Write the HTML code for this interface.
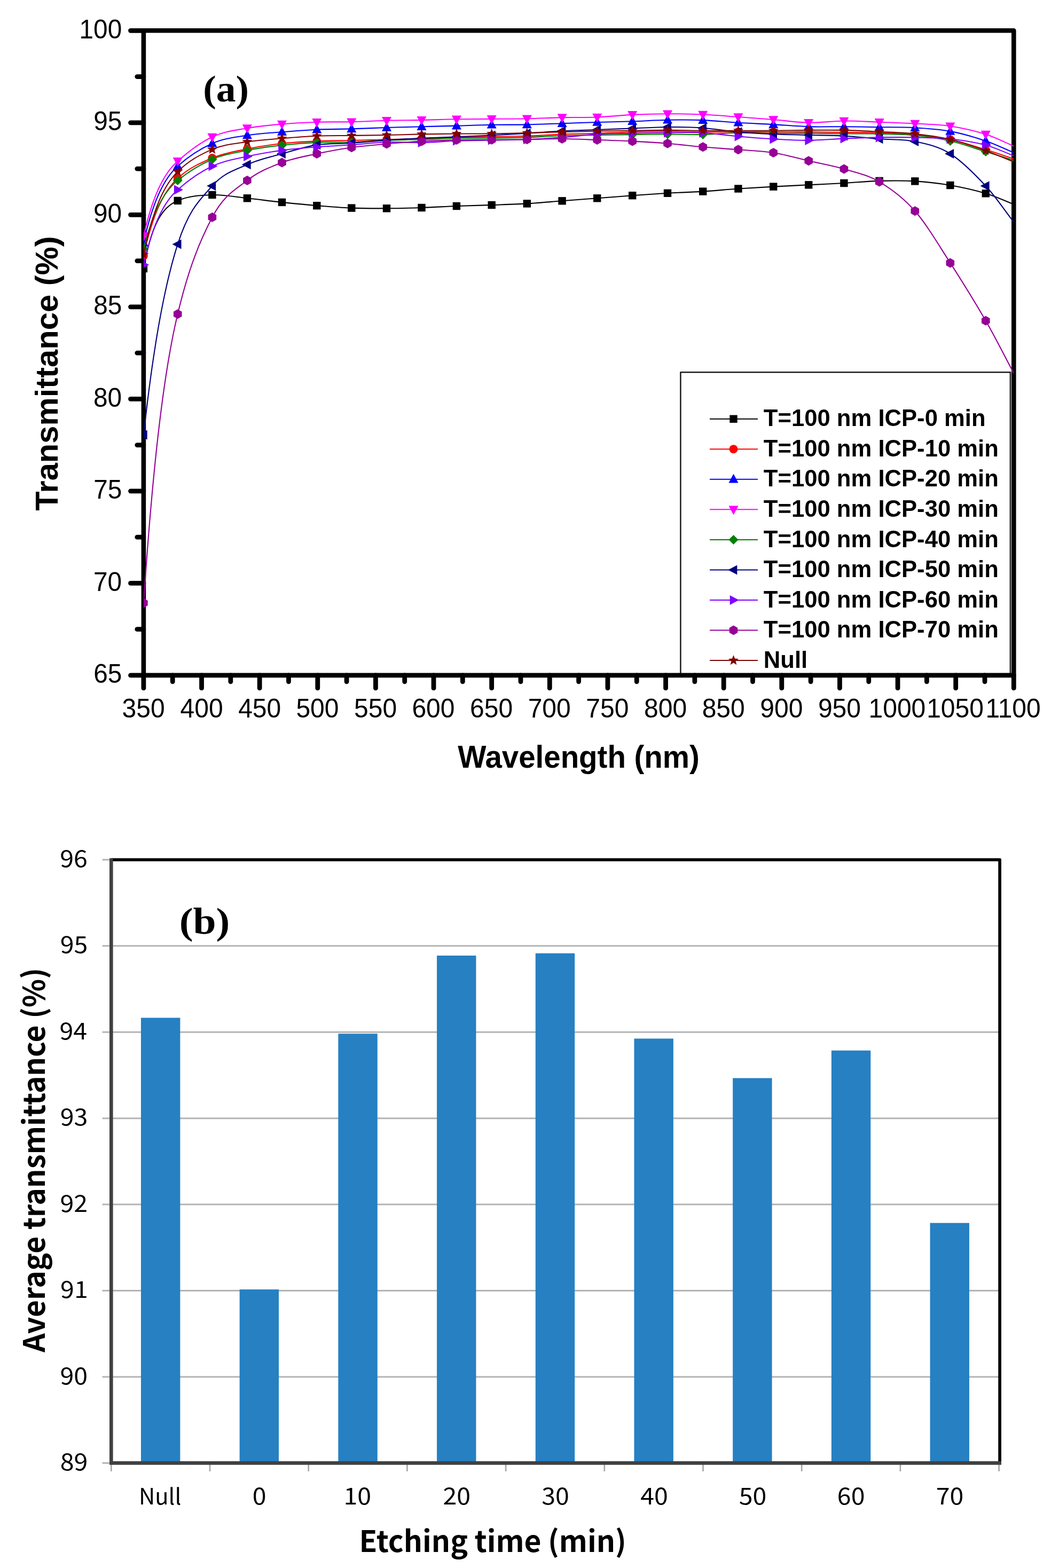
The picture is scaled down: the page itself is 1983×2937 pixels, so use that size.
<!DOCTYPE html>
<html><head><meta charset="utf-8"><title>Transmittance spectra and average transmittance</title><style>html,body{margin:0;padding:0;background:#fff;width:1983px;height:2937px;overflow:hidden}</style></head><body>
<svg width="1983" height="2937" viewBox="0 0 1983 2937" style="display:block">
<rect width="1983" height="2937" fill="#fff"/>
<path d="M1274.4,1264.9 L1274.4,697.3 L1891.9,697.3 L1891.9,1264.9" fill="#fff" stroke="#1a1a1a" stroke-width="2.5" stroke-linejoin="round"/>
<g stroke="#000" fill="none" stroke-linecap="round">
<rect x="268.9" y="57.3" width="1629.4" height="1207.6" stroke-width="8.6" stroke-linejoin="round"/>
<line x1="244.5" y1="57.3" x2="268.9" y2="57.3" stroke-width="8.8"/>
<line x1="256.8" y1="143.56" x2="268.9" y2="143.56" stroke-width="8.8"/>
<line x1="244.5" y1="229.81" x2="268.9" y2="229.81" stroke-width="8.8"/>
<line x1="256.8" y1="316.07" x2="268.9" y2="316.07" stroke-width="8.8"/>
<line x1="244.5" y1="402.33" x2="268.9" y2="402.33" stroke-width="8.8"/>
<line x1="256.8" y1="488.59" x2="268.9" y2="488.59" stroke-width="8.8"/>
<line x1="244.5" y1="574.84" x2="268.9" y2="574.84" stroke-width="8.8"/>
<line x1="256.8" y1="661.1" x2="268.9" y2="661.1" stroke-width="8.8"/>
<line x1="244.5" y1="747.36" x2="268.9" y2="747.36" stroke-width="8.8"/>
<line x1="256.8" y1="833.61" x2="268.9" y2="833.61" stroke-width="8.8"/>
<line x1="244.5" y1="919.87" x2="268.9" y2="919.87" stroke-width="8.8"/>
<line x1="256.8" y1="1006.13" x2="268.9" y2="1006.13" stroke-width="8.8"/>
<line x1="244.5" y1="1092.39" x2="268.9" y2="1092.39" stroke-width="8.8"/>
<line x1="256.8" y1="1178.64" x2="268.9" y2="1178.64" stroke-width="8.8"/>
<line x1="244.5" y1="1264.9" x2="268.9" y2="1264.9" stroke-width="8.8"/>
<line x1="268.9" y1="1264.9" x2="268.9" y2="1288.9" stroke-width="8.8"/>
<line x1="323.21" y1="1264.9" x2="323.21" y2="1276.8" stroke-width="8.8"/>
<line x1="377.53" y1="1264.9" x2="377.53" y2="1288.9" stroke-width="8.8"/>
<line x1="431.84" y1="1264.9" x2="431.84" y2="1276.8" stroke-width="8.8"/>
<line x1="486.15" y1="1264.9" x2="486.15" y2="1288.9" stroke-width="8.8"/>
<line x1="540.47" y1="1264.9" x2="540.47" y2="1276.8" stroke-width="8.8"/>
<line x1="594.78" y1="1264.9" x2="594.78" y2="1288.9" stroke-width="8.8"/>
<line x1="649.09" y1="1264.9" x2="649.09" y2="1276.8" stroke-width="8.8"/>
<line x1="703.41" y1="1264.9" x2="703.41" y2="1288.9" stroke-width="8.8"/>
<line x1="757.72" y1="1264.9" x2="757.72" y2="1276.8" stroke-width="8.8"/>
<line x1="812.03" y1="1264.9" x2="812.03" y2="1288.9" stroke-width="8.8"/>
<line x1="866.35" y1="1264.9" x2="866.35" y2="1276.8" stroke-width="8.8"/>
<line x1="920.66" y1="1264.9" x2="920.66" y2="1288.9" stroke-width="8.8"/>
<line x1="974.97" y1="1264.9" x2="974.97" y2="1276.8" stroke-width="8.8"/>
<line x1="1029.29" y1="1264.9" x2="1029.29" y2="1288.9" stroke-width="8.8"/>
<line x1="1083.6" y1="1264.9" x2="1083.6" y2="1276.8" stroke-width="8.8"/>
<line x1="1137.91" y1="1264.9" x2="1137.91" y2="1288.9" stroke-width="8.8"/>
<line x1="1192.23" y1="1264.9" x2="1192.23" y2="1276.8" stroke-width="8.8"/>
<line x1="1246.54" y1="1264.9" x2="1246.54" y2="1288.9" stroke-width="8.8"/>
<line x1="1300.85" y1="1264.9" x2="1300.85" y2="1276.8" stroke-width="8.8"/>
<line x1="1355.17" y1="1264.9" x2="1355.17" y2="1288.9" stroke-width="8.8"/>
<line x1="1409.48" y1="1264.9" x2="1409.48" y2="1276.8" stroke-width="8.8"/>
<line x1="1463.79" y1="1264.9" x2="1463.79" y2="1288.9" stroke-width="8.8"/>
<line x1="1518.11" y1="1264.9" x2="1518.11" y2="1276.8" stroke-width="8.8"/>
<line x1="1572.42" y1="1264.9" x2="1572.42" y2="1288.9" stroke-width="8.8"/>
<line x1="1626.73" y1="1264.9" x2="1626.73" y2="1276.8" stroke-width="8.8"/>
<line x1="1681.05" y1="1264.9" x2="1681.05" y2="1288.9" stroke-width="8.8"/>
<line x1="1735.36" y1="1264.9" x2="1735.36" y2="1276.8" stroke-width="8.8"/>
<line x1="1789.67" y1="1264.9" x2="1789.67" y2="1288.9" stroke-width="8.8"/>
<line x1="1843.99" y1="1264.9" x2="1843.99" y2="1276.8" stroke-width="8.8"/>
<line x1="1898.3" y1="1264.9" x2="1898.3" y2="1288.9" stroke-width="8.8"/>
</g>
<defs><clipPath id="ca"><rect x="268.9" y="57.3" width="1629.4" height="1207.6"/></clipPath></defs>
<g clip-path="url(#ca)">
<path d="M268.9,503 L271.18,490.99 L273.46,480.03 L275.74,470.02 L278.01,460.89 L280.29,452.55 L282.57,444.94 L284.85,437.99 L287.13,431.64 L289.41,425.85 L291.69,420.56 L293.96,415.74 L296.24,411.33 L298.52,407.31 L300.8,403.64 L303.08,400.29 L305.36,397.23 L307.64,394.43 L309.91,391.88 L312.19,389.55 L314.47,387.43 L316.75,385.49 L319.03,383.72 L321.31,382.1 L323.59,380.63 L325.86,379.28 L328.14,378.05 L330.42,376.93 L332.7,375.9 C354.27,366.63 375.83,365.76 397.4,365 C419.23,364.23 441.07,368.98 462.9,371.3 C484.6,373.61 506.3,376.59 528,378.9 C549.77,381.22 571.53,383.41 593.3,385.2 C614.97,386.98 636.63,388.75 658.3,389.6 C680.2,390.45 702.1,390.4 724,390.3 C745.83,390.2 767.67,389.72 789.5,389 C811.3,388.28 833.1,386.83 854.9,386 C876.83,385.16 898.77,384.76 920.7,384 C942.73,383.23 964.77,382.69 986.8,381.4 C1008.73,380.12 1030.67,377.99 1052.6,376.3 C1074.47,374.62 1096.33,372.98 1118.2,371.3 C1140.2,369.61 1162.2,367.79 1184.2,366.2 C1206.13,364.62 1228.07,363.06 1250,361.8 C1272.07,360.53 1294.13,359.98 1316.2,358.6 C1338.27,357.22 1360.33,355 1382.4,353.5 C1404.33,352 1426.27,350.8 1448.2,349.6 C1470.2,348.4 1492.2,347.4 1514.2,346.3 C1536.27,345.2 1558.33,344.23 1580.4,343 C1602.47,341.77 1624.53,339.5 1646.6,338.9 C1668.83,338.3 1691.07,338.04 1713.3,339.4 C1735.3,340.74 1757.3,343.2 1779.3,347 C1801.47,350.83 1823.63,355.65 1845.8,362.3 C1863.3,367.55 1880.8,375.9 1898.3,382.7" fill="none" stroke="#000000" stroke-width="2.1" stroke-linejoin="round"/>
<rect x="261.7" y="495.8" width="14.4" height="14.4" fill="#000000"/>
<rect x="325.5" y="368.7" width="14.4" height="14.4" fill="#000000"/>
<rect x="390.2" y="357.8" width="14.4" height="14.4" fill="#000000"/>
<rect x="455.7" y="364.1" width="14.4" height="14.4" fill="#000000"/>
<rect x="520.8" y="371.7" width="14.4" height="14.4" fill="#000000"/>
<rect x="586.1" y="378" width="14.4" height="14.4" fill="#000000"/>
<rect x="651.1" y="382.4" width="14.4" height="14.4" fill="#000000"/>
<rect x="716.8" y="383.1" width="14.4" height="14.4" fill="#000000"/>
<rect x="782.3" y="381.8" width="14.4" height="14.4" fill="#000000"/>
<rect x="847.7" y="378.8" width="14.4" height="14.4" fill="#000000"/>
<rect x="913.5" y="376.8" width="14.4" height="14.4" fill="#000000"/>
<rect x="979.6" y="374.2" width="14.4" height="14.4" fill="#000000"/>
<rect x="1045.4" y="369.1" width="14.4" height="14.4" fill="#000000"/>
<rect x="1111" y="364.1" width="14.4" height="14.4" fill="#000000"/>
<rect x="1177" y="359" width="14.4" height="14.4" fill="#000000"/>
<rect x="1242.8" y="354.6" width="14.4" height="14.4" fill="#000000"/>
<rect x="1309" y="351.4" width="14.4" height="14.4" fill="#000000"/>
<rect x="1375.2" y="346.3" width="14.4" height="14.4" fill="#000000"/>
<rect x="1441" y="342.4" width="14.4" height="14.4" fill="#000000"/>
<rect x="1507" y="339.1" width="14.4" height="14.4" fill="#000000"/>
<rect x="1573.2" y="335.8" width="14.4" height="14.4" fill="#000000"/>
<rect x="1639.4" y="331.7" width="14.4" height="14.4" fill="#000000"/>
<rect x="1706.1" y="332.2" width="14.4" height="14.4" fill="#000000"/>
<rect x="1772.1" y="339.8" width="14.4" height="14.4" fill="#000000"/>
<rect x="1838.6" y="355.1" width="14.4" height="14.4" fill="#000000"/>
<path d="M268.9,479 L271.18,468.93 L273.46,459.41 L275.74,450.42 L278.01,441.93 L280.29,433.91 L282.57,426.34 L284.85,419.18 L287.13,412.42 L289.41,406.03 L291.69,400 L293.96,394.3 L296.24,388.92 L298.52,383.83 L300.8,379.03 L303.08,374.49 L305.36,370.21 L307.64,366.16 L309.91,362.33 L312.19,358.72 L314.47,355.31 L316.75,352.09 L319.03,349.04 L321.31,346.16 L323.59,343.45 L325.86,340.88 L328.14,338.45 L330.42,336.16 L332.7,334 C354.27,314.1 375.83,305.11 397.4,296 C419.23,286.78 441.07,283.55 462.9,279 C484.6,274.48 506.3,271.23 528,268.8 C549.77,266.36 571.53,265.37 593.3,264.4 C614.97,263.44 636.63,263.51 658.3,263 C680.2,262.48 702.1,261.85 724,261.3 C745.83,260.75 767.67,260.38 789.5,259.7 C811.3,259.02 833.1,257.81 854.9,257.2 C876.83,256.58 898.77,256.4 920.7,256 C942.73,255.6 964.77,255.54 986.8,254.8 C1008.73,254.07 1030.67,252.45 1052.6,251.6 C1074.47,250.75 1096.33,250.43 1118.2,249.7 C1140.2,248.96 1162.2,247.77 1184.2,247.2 C1206.13,246.63 1228.07,246.3 1250,246.3 C1272.07,246.3 1294.13,247.08 1316.2,247.2 C1338.27,247.32 1360.33,247 1382.4,247 C1404.33,247 1426.27,247.17 1448.2,247.2 C1470.2,247.23 1492.2,247.07 1514.2,247.2 C1536.27,247.33 1558.33,247.73 1580.4,248 C1602.47,248.27 1624.53,248.04 1646.6,248.8 C1668.83,249.57 1691.07,250.52 1713.3,252.6 C1735.3,254.66 1757.3,256.6 1779.3,261.2 C1801.47,265.83 1823.63,273.54 1845.8,280.3 C1863.3,285.64 1880.8,291.77 1898.3,297.5" fill="none" stroke="#FF0000" stroke-width="2.1" stroke-linejoin="round"/>
<circle cx="268.9" cy="479" r="8" fill="#FF0000"/>
<circle cx="332.7" cy="334" r="8" fill="#FF0000"/>
<circle cx="397.4" cy="296" r="8" fill="#FF0000"/>
<circle cx="462.9" cy="279" r="8" fill="#FF0000"/>
<circle cx="528" cy="268.8" r="8" fill="#FF0000"/>
<circle cx="593.3" cy="264.4" r="8" fill="#FF0000"/>
<circle cx="658.3" cy="263" r="8" fill="#FF0000"/>
<circle cx="724" cy="261.3" r="8" fill="#FF0000"/>
<circle cx="789.5" cy="259.7" r="8" fill="#FF0000"/>
<circle cx="854.9" cy="257.2" r="8" fill="#FF0000"/>
<circle cx="920.7" cy="256" r="8" fill="#FF0000"/>
<circle cx="986.8" cy="254.8" r="8" fill="#FF0000"/>
<circle cx="1052.6" cy="251.6" r="8" fill="#FF0000"/>
<circle cx="1118.2" cy="249.7" r="8" fill="#FF0000"/>
<circle cx="1184.2" cy="247.2" r="8" fill="#FF0000"/>
<circle cx="1250" cy="246.3" r="8" fill="#FF0000"/>
<circle cx="1316.2" cy="247.2" r="8" fill="#FF0000"/>
<circle cx="1382.4" cy="247" r="8" fill="#FF0000"/>
<circle cx="1448.2" cy="247.2" r="8" fill="#FF0000"/>
<circle cx="1514.2" cy="247.2" r="8" fill="#FF0000"/>
<circle cx="1580.4" cy="248" r="8" fill="#FF0000"/>
<circle cx="1646.6" cy="248.8" r="8" fill="#FF0000"/>
<circle cx="1713.3" cy="252.6" r="8" fill="#FF0000"/>
<circle cx="1779.3" cy="261.2" r="8" fill="#FF0000"/>
<circle cx="1845.8" cy="280.3" r="8" fill="#FF0000"/>
<path d="M268.9,455 L271.18,445.02 L273.46,435.59 L275.74,426.68 L278.01,418.27 L280.29,410.32 L282.57,402.81 L284.85,395.72 L287.13,389.02 L289.41,382.69 L291.69,376.71 L293.96,371.06 L296.24,365.73 L298.52,360.69 L300.8,355.93 L303.08,351.43 L305.36,347.18 L307.64,343.17 L309.91,339.38 L312.19,335.8 L314.47,332.42 L316.75,329.22 L319.03,326.21 L321.31,323.35 L323.59,320.66 L325.86,318.12 L328.14,315.71 L330.42,313.44 L332.7,311.3 C354.27,291.58 375.83,278.27 397.4,268.7 C419.23,259.01 441.07,257.09 462.9,253.5 C484.6,249.93 506.3,249 528,247.2 C549.77,245.4 571.53,243.67 593.3,242.7 C614.97,241.74 636.63,242.01 658.3,241.4 C680.2,240.78 702.1,239.68 724,239 C745.83,238.32 767.67,237.87 789.5,237.3 C811.3,236.73 833.1,236.18 854.9,235.6 C876.83,235.01 898.77,234.17 920.7,233.8 C942.73,233.43 964.77,233.83 986.8,233.4 C1008.73,232.97 1030.67,231.93 1052.6,231.2 C1074.47,230.47 1096.33,229.65 1118.2,229 C1140.2,228.35 1162.2,228 1184.2,227.3 C1206.13,226.6 1228.07,225.17 1250,224.8 C1272.07,224.43 1294.13,224.27 1316.2,225.1 C1338.27,225.93 1360.33,228.46 1382.4,229.8 C1404.33,231.13 1426.27,231.87 1448.2,233.1 C1470.2,234.34 1492.2,236.52 1514.2,237.2 C1536.27,237.88 1558.33,237.03 1580.4,237.2 C1602.47,237.37 1624.53,237.87 1646.6,238.2 C1668.83,238.53 1691.07,237.91 1713.3,239.2 C1735.3,240.48 1757.3,241.78 1779.3,245.9 C1801.47,250.05 1823.63,256.53 1845.8,264 C1863.3,269.9 1880.8,278.67 1898.3,286" fill="none" stroke="#0000FF" stroke-width="2.1" stroke-linejoin="round"/>
<polygon points="268.9,444.8 277.9,461.8 259.9,461.8" fill="#0000FF"/>
<polygon points="332.7,301.1 341.7,318.1 323.7,318.1" fill="#0000FF"/>
<polygon points="397.4,258.5 406.4,275.5 388.4,275.5" fill="#0000FF"/>
<polygon points="462.9,243.3 471.9,260.3 453.9,260.3" fill="#0000FF"/>
<polygon points="528,237 537,254 519,254" fill="#0000FF"/>
<polygon points="593.3,232.5 602.3,249.5 584.3,249.5" fill="#0000FF"/>
<polygon points="658.3,231.2 667.3,248.2 649.3,248.2" fill="#0000FF"/>
<polygon points="724,228.8 733,245.8 715,245.8" fill="#0000FF"/>
<polygon points="789.5,227.1 798.5,244.1 780.5,244.1" fill="#0000FF"/>
<polygon points="854.9,225.4 863.9,242.4 845.9,242.4" fill="#0000FF"/>
<polygon points="920.7,223.6 929.7,240.6 911.7,240.6" fill="#0000FF"/>
<polygon points="986.8,223.2 995.8,240.2 977.8,240.2" fill="#0000FF"/>
<polygon points="1052.6,221 1061.6,238 1043.6,238" fill="#0000FF"/>
<polygon points="1118.2,218.8 1127.2,235.8 1109.2,235.8" fill="#0000FF"/>
<polygon points="1184.2,217.1 1193.2,234.1 1175.2,234.1" fill="#0000FF"/>
<polygon points="1250,214.6 1259,231.6 1241,231.6" fill="#0000FF"/>
<polygon points="1316.2,214.9 1325.2,231.9 1307.2,231.9" fill="#0000FF"/>
<polygon points="1382.4,219.6 1391.4,236.6 1373.4,236.6" fill="#0000FF"/>
<polygon points="1448.2,222.9 1457.2,239.9 1439.2,239.9" fill="#0000FF"/>
<polygon points="1514.2,227 1523.2,244 1505.2,244" fill="#0000FF"/>
<polygon points="1580.4,227 1589.4,244 1571.4,244" fill="#0000FF"/>
<polygon points="1646.6,228 1655.6,245 1637.6,245" fill="#0000FF"/>
<polygon points="1713.3,229 1722.3,246 1704.3,246" fill="#0000FF"/>
<polygon points="1779.3,235.7 1788.3,252.7 1770.3,252.7" fill="#0000FF"/>
<polygon points="1845.8,253.8 1854.8,270.8 1836.8,270.8" fill="#0000FF"/>
<path d="M268.9,442 L271.18,432.27 L273.46,423.07 L275.74,414.39 L278.01,406.19 L280.29,398.44 L282.57,391.12 L284.85,384.2 L287.13,377.67 L289.41,371.5 L291.69,365.67 L293.96,360.16 L296.24,354.96 L298.52,350.05 L300.8,345.41 L303.08,341.03 L305.36,336.88 L307.64,332.97 L309.91,329.28 L312.19,325.79 L314.47,322.49 L316.75,319.37 L319.03,316.43 L321.31,313.65 L323.59,311.03 L325.86,308.55 L328.14,306.2 L330.42,303.99 L332.7,301.9 C354.27,282.67 375.83,266.75 397.4,256.5 C419.23,246.12 441.07,244.01 462.9,240 C484.6,236.01 506.3,234.38 528,232.5 C549.77,230.61 571.53,229.42 593.3,228.7 C614.97,227.98 636.63,228.7 658.3,228.2 C680.2,227.7 702.1,226.25 724,225.7 C745.83,225.15 767.67,225.32 789.5,224.9 C811.3,224.48 833.1,223.53 854.9,223.2 C876.83,222.87 898.77,223.05 920.7,222.9 C942.73,222.75 964.77,222.77 986.8,222.3 C1008.73,221.83 1030.67,220.57 1052.6,220.1 C1074.47,219.63 1096.33,220.36 1118.2,219.5 C1140.2,218.63 1162.2,215.95 1184.2,214.9 C1206.13,213.85 1228.07,213.27 1250,213.2 C1272.07,213.13 1294.13,213.53 1316.2,214.5 C1338.27,215.47 1360.33,217.41 1382.4,219 C1404.33,220.58 1426.27,222.2 1448.2,224 C1470.2,225.8 1492.2,229.38 1514.2,229.8 C1536.27,230.22 1558.33,226.68 1580.4,226.5 C1602.47,226.32 1624.53,227.87 1646.6,228.7 C1668.83,229.54 1691.07,230.23 1713.3,231.5 C1735.3,232.76 1757.3,232.96 1779.3,236.3 C1801.47,239.66 1823.63,244.65 1845.8,251.6 C1863.3,257.09 1880.8,266.27 1898.3,273.6" fill="none" stroke="#FF00FF" stroke-width="2.1" stroke-linejoin="round"/>
<polygon points="268.9,452.2 277.9,435.2 259.9,435.2" fill="#FF00FF"/>
<polygon points="332.7,312.1 341.7,295.1 323.7,295.1" fill="#FF00FF"/>
<polygon points="397.4,266.7 406.4,249.7 388.4,249.7" fill="#FF00FF"/>
<polygon points="462.9,250.2 471.9,233.2 453.9,233.2" fill="#FF00FF"/>
<polygon points="528,242.7 537,225.7 519,225.7" fill="#FF00FF"/>
<polygon points="593.3,238.9 602.3,221.9 584.3,221.9" fill="#FF00FF"/>
<polygon points="658.3,238.4 667.3,221.4 649.3,221.4" fill="#FF00FF"/>
<polygon points="724,235.9 733,218.9 715,218.9" fill="#FF00FF"/>
<polygon points="789.5,235.1 798.5,218.1 780.5,218.1" fill="#FF00FF"/>
<polygon points="854.9,233.4 863.9,216.4 845.9,216.4" fill="#FF00FF"/>
<polygon points="920.7,233.1 929.7,216.1 911.7,216.1" fill="#FF00FF"/>
<polygon points="986.8,232.5 995.8,215.5 977.8,215.5" fill="#FF00FF"/>
<polygon points="1052.6,230.3 1061.6,213.3 1043.6,213.3" fill="#FF00FF"/>
<polygon points="1118.2,229.7 1127.2,212.7 1109.2,212.7" fill="#FF00FF"/>
<polygon points="1184.2,225.1 1193.2,208.1 1175.2,208.1" fill="#FF00FF"/>
<polygon points="1250,223.4 1259,206.4 1241,206.4" fill="#FF00FF"/>
<polygon points="1316.2,224.7 1325.2,207.7 1307.2,207.7" fill="#FF00FF"/>
<polygon points="1382.4,229.2 1391.4,212.2 1373.4,212.2" fill="#FF00FF"/>
<polygon points="1448.2,234.2 1457.2,217.2 1439.2,217.2" fill="#FF00FF"/>
<polygon points="1514.2,240 1523.2,223 1505.2,223" fill="#FF00FF"/>
<polygon points="1580.4,236.7 1589.4,219.7 1571.4,219.7" fill="#FF00FF"/>
<polygon points="1646.6,238.9 1655.6,221.9 1637.6,221.9" fill="#FF00FF"/>
<polygon points="1713.3,241.7 1722.3,224.7 1704.3,224.7" fill="#FF00FF"/>
<polygon points="1779.3,246.5 1788.3,229.5 1770.3,229.5" fill="#FF00FF"/>
<polygon points="1845.8,261.8 1854.8,244.8 1836.8,244.8" fill="#FF00FF"/>
<path d="M268.9,466 L271.18,457.11 L273.46,448.71 L275.74,440.77 L278.01,433.28 L280.29,426.2 L282.57,419.51 L284.85,413.19 L287.13,407.23 L289.41,401.59 L291.69,396.26 L293.96,391.23 L296.24,386.48 L298.52,381.99 L300.8,377.75 L303.08,373.75 L305.36,369.96 L307.64,366.39 L309.91,363.01 L312.19,359.82 L314.47,356.81 L316.75,353.96 L319.03,351.28 L321.31,348.74 L323.59,346.34 L325.86,344.07 L328.14,341.93 L330.42,339.91 L332.7,338 C354.27,320.43 375.83,307.84 397.4,298.5 C419.23,289.04 441.07,286.03 462.9,281.6 C484.6,277.2 506.3,274.45 528,272 C549.77,269.55 571.53,267.85 593.3,266.9 C614.97,265.95 636.63,267.01 658.3,266.3 C680.2,265.58 702.1,263.43 724,262.6 C745.83,261.77 767.67,261.93 789.5,261.3 C811.3,260.67 833.1,259.25 854.9,258.8 C876.83,258.35 898.77,258.83 920.7,258.6 C942.73,258.37 964.77,258.14 986.8,257.4 C1008.73,256.67 1030.67,254.93 1052.6,254.2 C1074.47,253.47 1096.33,253.35 1118.2,253 C1140.2,252.65 1162.2,252.35 1184.2,252.1 C1206.13,251.85 1228.07,251.52 1250,251.5 C1272.07,251.48 1294.13,252.45 1316.2,252 C1338.27,251.55 1360.33,249.18 1382.4,248.8 C1404.33,248.42 1426.27,249.55 1448.2,249.7 C1470.2,249.85 1492.2,249.57 1514.2,249.7 C1536.27,249.83 1558.33,250.33 1580.4,250.5 C1602.47,250.67 1624.53,250.2 1646.6,250.7 C1668.83,251.2 1691.07,251.27 1713.3,253.5 C1735.3,255.7 1757.3,258.92 1779.3,264 C1801.47,269.12 1823.63,277.32 1845.8,284.1 C1863.3,289.45 1880.8,294.97 1898.3,300.4" fill="none" stroke="#008000" stroke-width="2.1" stroke-linejoin="round"/>
<polygon points="268.9,457 277.9,466 268.9,475 259.9,466" fill="#008000"/>
<polygon points="332.7,329 341.7,338 332.7,347 323.7,338" fill="#008000"/>
<polygon points="397.4,289.5 406.4,298.5 397.4,307.5 388.4,298.5" fill="#008000"/>
<polygon points="462.9,272.6 471.9,281.6 462.9,290.6 453.9,281.6" fill="#008000"/>
<polygon points="528,263 537,272 528,281 519,272" fill="#008000"/>
<polygon points="593.3,257.9 602.3,266.9 593.3,275.9 584.3,266.9" fill="#008000"/>
<polygon points="658.3,257.3 667.3,266.3 658.3,275.3 649.3,266.3" fill="#008000"/>
<polygon points="724,253.6 733,262.6 724,271.6 715,262.6" fill="#008000"/>
<polygon points="789.5,252.3 798.5,261.3 789.5,270.3 780.5,261.3" fill="#008000"/>
<polygon points="854.9,249.8 863.9,258.8 854.9,267.8 845.9,258.8" fill="#008000"/>
<polygon points="920.7,249.6 929.7,258.6 920.7,267.6 911.7,258.6" fill="#008000"/>
<polygon points="986.8,248.4 995.8,257.4 986.8,266.4 977.8,257.4" fill="#008000"/>
<polygon points="1052.6,245.2 1061.6,254.2 1052.6,263.2 1043.6,254.2" fill="#008000"/>
<polygon points="1118.2,244 1127.2,253 1118.2,262 1109.2,253" fill="#008000"/>
<polygon points="1184.2,243.1 1193.2,252.1 1184.2,261.1 1175.2,252.1" fill="#008000"/>
<polygon points="1250,242.5 1259,251.5 1250,260.5 1241,251.5" fill="#008000"/>
<polygon points="1316.2,243 1325.2,252 1316.2,261 1307.2,252" fill="#008000"/>
<polygon points="1382.4,239.8 1391.4,248.8 1382.4,257.8 1373.4,248.8" fill="#008000"/>
<polygon points="1448.2,240.7 1457.2,249.7 1448.2,258.7 1439.2,249.7" fill="#008000"/>
<polygon points="1514.2,240.7 1523.2,249.7 1514.2,258.7 1505.2,249.7" fill="#008000"/>
<polygon points="1580.4,241.5 1589.4,250.5 1580.4,259.5 1571.4,250.5" fill="#008000"/>
<polygon points="1646.6,241.7 1655.6,250.7 1646.6,259.7 1637.6,250.7" fill="#008000"/>
<polygon points="1713.3,244.5 1722.3,253.5 1713.3,262.5 1704.3,253.5" fill="#008000"/>
<polygon points="1779.3,255 1788.3,264 1779.3,273 1770.3,264" fill="#008000"/>
<polygon points="1845.8,275.1 1854.8,284.1 1845.8,293.1 1836.8,284.1" fill="#008000"/>
<path d="M268.9,814.4 L271.18,794.09 L273.46,774.53 L275.74,755.7 L278.01,737.57 L280.29,720.12 L282.57,703.32 L284.85,687.15 L287.13,671.57 L289.41,656.58 L291.69,642.15 L293.96,628.25 L296.24,614.88 L298.52,602 L300.8,589.6 L303.08,577.66 L305.36,566.17 L307.64,555.11 L309.91,544.45 L312.19,534.2 L314.47,524.33 L316.75,514.82 L319.03,505.67 L321.31,496.86 L323.59,488.38 L325.86,480.22 L328.14,472.35 L330.42,464.79 L332.7,457.5 C354.27,389.84 375.83,373.01 397.4,348.3 C419.23,323.28 441.07,318.38 462.9,308.3 C484.6,298.28 506.3,294.14 528,288 C549.77,281.84 571.53,274.74 593.3,271.4 C614.97,268.07 636.63,269.46 658.3,268 C680.2,266.53 702.1,264.14 724,262.6 C745.83,261.07 767.67,259.85 789.5,258.8 C811.3,257.75 833.1,257.18 854.9,256.3 C876.83,255.41 898.77,254.6 920.7,253.5 C942.73,252.4 964.77,251.07 986.8,249.7 C1008.73,248.34 1030.67,246.42 1052.6,245.3 C1074.47,244.19 1096.33,243.8 1118.2,243 C1140.2,242.2 1162.2,241.33 1184.2,240.5 C1206.13,239.67 1228.07,238.13 1250,238 C1272.07,237.87 1294.13,238.17 1316.2,239.7 C1338.27,241.23 1360.33,245.26 1382.4,247.2 C1404.33,249.13 1426.27,250.33 1448.2,251.3 C1470.2,252.27 1492.2,252.45 1514.2,253 C1536.27,253.55 1558.33,253.4 1580.4,254.6 C1602.47,255.8 1624.53,258.47 1646.6,260.2 C1668.83,261.94 1691.07,260.34 1713.3,265 C1735.3,269.61 1757.3,274.17 1779.3,288 C1801.47,301.94 1823.63,324.46 1845.8,348.3 C1863.3,367.12 1880.8,393.43 1898.3,416" fill="none" stroke="#000080" stroke-width="2.1" stroke-linejoin="round"/>
<polygon points="258.7,814.4 275.7,805.4 275.7,823.4" fill="#000080"/>
<polygon points="322.5,457.5 339.5,448.5 339.5,466.5" fill="#000080"/>
<polygon points="387.2,348.3 404.2,339.3 404.2,357.3" fill="#000080"/>
<polygon points="452.7,308.3 469.7,299.3 469.7,317.3" fill="#000080"/>
<polygon points="517.8,288 534.8,279 534.8,297" fill="#000080"/>
<polygon points="583.1,271.4 600.1,262.4 600.1,280.4" fill="#000080"/>
<polygon points="648.1,268 665.1,259 665.1,277" fill="#000080"/>
<polygon points="713.8,262.6 730.8,253.6 730.8,271.6" fill="#000080"/>
<polygon points="779.3,258.8 796.3,249.8 796.3,267.8" fill="#000080"/>
<polygon points="844.7,256.3 861.7,247.3 861.7,265.3" fill="#000080"/>
<polygon points="910.5,253.5 927.5,244.5 927.5,262.5" fill="#000080"/>
<polygon points="976.6,249.7 993.6,240.7 993.6,258.7" fill="#000080"/>
<polygon points="1042.4,245.3 1059.4,236.3 1059.4,254.3" fill="#000080"/>
<polygon points="1108,243 1125,234 1125,252" fill="#000080"/>
<polygon points="1174,240.5 1191,231.5 1191,249.5" fill="#000080"/>
<polygon points="1239.8,238 1256.8,229 1256.8,247" fill="#000080"/>
<polygon points="1306,239.7 1323,230.7 1323,248.7" fill="#000080"/>
<polygon points="1372.2,247.2 1389.2,238.2 1389.2,256.2" fill="#000080"/>
<polygon points="1438,251.3 1455,242.3 1455,260.3" fill="#000080"/>
<polygon points="1504,253 1521,244 1521,262" fill="#000080"/>
<polygon points="1570.2,254.6 1587.2,245.6 1587.2,263.6" fill="#000080"/>
<polygon points="1636.4,260.2 1653.4,251.2 1653.4,269.2" fill="#000080"/>
<polygon points="1703.1,265 1720.1,256 1720.1,274" fill="#000080"/>
<polygon points="1769.1,288 1786.1,279 1786.1,297" fill="#000080"/>
<polygon points="1835.6,348.3 1852.6,339.3 1852.6,357.3" fill="#000080"/>
<path d="M268.9,496 L271.18,486.23 L273.46,477.01 L275.74,468.29 L278.01,460.06 L280.29,452.28 L282.57,444.93 L284.85,438 L287.13,431.44 L289.41,425.25 L291.69,419.4 L293.96,413.87 L296.24,408.65 L298.52,403.72 L300.8,399.06 L303.08,394.67 L305.36,390.51 L307.64,386.58 L309.91,382.87 L312.19,379.37 L314.47,376.06 L316.75,372.94 L319.03,369.98 L321.31,367.19 L323.59,364.56 L325.86,362.07 L328.14,359.72 L330.42,357.5 L332.7,355.4 C354.27,336.1 375.83,321.64 397.4,311.3 C419.23,300.84 441.07,297.97 462.9,293 C484.6,288.07 506.3,284.56 528,281.6 C549.77,278.63 571.53,276.92 593.3,275.2 C614.97,273.49 636.63,272.78 658.3,271.3 C680.2,269.81 702.1,267 724,266.3 C745.83,265.6 767.67,267.52 789.5,267.1 C811.3,266.68 833.1,264.56 854.9,263.8 C876.83,263.03 898.77,262.93 920.7,262.5 C942.73,262.07 964.77,262.05 986.8,261.2 C1008.73,260.35 1030.67,259.05 1052.6,257.4 C1074.47,255.75 1096.33,252.58 1118.2,251.3 C1140.2,250.01 1162.2,250.12 1184.2,249.7 C1206.13,249.28 1228.07,248.95 1250,248.8 C1272.07,248.65 1294.13,247.68 1316.2,248.8 C1338.27,249.92 1360.33,253.56 1382.4,255.5 C1404.33,257.43 1426.27,259.17 1448.2,260.4 C1470.2,261.64 1492.2,263.03 1514.2,262.9 C1536.27,262.77 1558.33,260.52 1580.4,259.6 C1602.47,258.68 1624.53,257.77 1646.6,257.4 C1668.83,257.03 1691.07,256.93 1713.3,257.4 C1735.3,257.86 1757.3,257.83 1779.3,260.2 C1801.47,262.59 1823.63,265.81 1845.8,271.7 C1863.3,276.35 1880.8,285.1 1898.3,291.8" fill="none" stroke="#8000FF" stroke-width="2.1" stroke-linejoin="round"/>
<polygon points="279.1,496 262.1,487 262.1,505" fill="#8000FF"/>
<polygon points="342.9,355.4 325.9,346.4 325.9,364.4" fill="#8000FF"/>
<polygon points="407.6,311.3 390.6,302.3 390.6,320.3" fill="#8000FF"/>
<polygon points="473.1,293 456.1,284 456.1,302" fill="#8000FF"/>
<polygon points="538.2,281.6 521.2,272.6 521.2,290.6" fill="#8000FF"/>
<polygon points="603.5,275.2 586.5,266.2 586.5,284.2" fill="#8000FF"/>
<polygon points="668.5,271.3 651.5,262.3 651.5,280.3" fill="#8000FF"/>
<polygon points="734.2,266.3 717.2,257.3 717.2,275.3" fill="#8000FF"/>
<polygon points="799.7,267.1 782.7,258.1 782.7,276.1" fill="#8000FF"/>
<polygon points="865.1,263.8 848.1,254.8 848.1,272.8" fill="#8000FF"/>
<polygon points="930.9,262.5 913.9,253.5 913.9,271.5" fill="#8000FF"/>
<polygon points="997,261.2 980,252.2 980,270.2" fill="#8000FF"/>
<polygon points="1062.8,257.4 1045.8,248.4 1045.8,266.4" fill="#8000FF"/>
<polygon points="1128.4,251.3 1111.4,242.3 1111.4,260.3" fill="#8000FF"/>
<polygon points="1194.4,249.7 1177.4,240.7 1177.4,258.7" fill="#8000FF"/>
<polygon points="1260.2,248.8 1243.2,239.8 1243.2,257.8" fill="#8000FF"/>
<polygon points="1326.4,248.8 1309.4,239.8 1309.4,257.8" fill="#8000FF"/>
<polygon points="1392.6,255.5 1375.6,246.5 1375.6,264.5" fill="#8000FF"/>
<polygon points="1458.4,260.4 1441.4,251.4 1441.4,269.4" fill="#8000FF"/>
<polygon points="1524.4,262.9 1507.4,253.9 1507.4,271.9" fill="#8000FF"/>
<polygon points="1590.6,259.6 1573.6,250.6 1573.6,268.6" fill="#8000FF"/>
<polygon points="1656.8,257.4 1639.8,248.4 1639.8,266.4" fill="#8000FF"/>
<polygon points="1723.5,257.4 1706.5,248.4 1706.5,266.4" fill="#8000FF"/>
<polygon points="1789.5,260.2 1772.5,251.2 1772.5,269.2" fill="#8000FF"/>
<polygon points="1856,271.7 1839,262.7 1839,280.7" fill="#8000FF"/>
<path d="M268.9,1129.4 L271.18,1095.95 L273.46,1064 L275.74,1033.46 L278.01,1004.29 L280.29,976.42 L282.57,949.79 L284.85,924.34 L287.13,900.03 L289.41,876.8 L291.69,854.61 L293.96,833.41 L296.24,813.15 L298.52,793.79 L300.8,775.29 L303.08,757.62 L305.36,740.74 L307.64,724.6 L309.91,709.19 L312.19,694.47 L314.47,680.39 L316.75,666.95 L319.03,654.11 L321.31,641.83 L323.59,630.11 L325.86,618.9 L328.14,608.2 L330.42,597.97 L332.7,588.2 C354.27,497.8 375.83,448.54 397.4,407.1 C419.23,365.14 441.07,355.15 462.9,338 C484.6,320.95 506.3,312.82 528,304.5 C549.77,296.15 571.53,292.73 593.3,288 C614.97,283.29 636.63,279.25 658.3,276.2 C680.2,273.12 702.1,271.54 724,269.6 C745.83,267.67 767.67,265.85 789.5,264.6 C811.3,263.35 833.1,262.57 854.9,262.1 C876.83,261.63 898.77,261.95 920.7,261.8 C942.73,261.65 964.77,261.5 986.8,261.2 C1008.73,260.9 1030.67,259.87 1052.6,260 C1074.47,260.13 1096.33,261.24 1118.2,262 C1140.2,262.77 1162.2,263.48 1184.2,264.6 C1206.13,265.71 1228.07,266.92 1250,268.7 C1272.07,270.49 1294.13,273.37 1316.2,275.3 C1338.27,277.23 1360.33,278.51 1382.4,280.3 C1404.33,282.08 1426.27,282.52 1448.2,286 C1470.2,289.49 1492.2,296.12 1514.2,301.2 C1536.27,306.29 1558.33,309.93 1580.4,316.5 C1602.47,323.07 1624.53,327.52 1646.6,340.6 C1668.83,353.78 1691.07,369.87 1713.3,395.3 C1735.3,420.47 1757.3,458.28 1779.3,492.4 C1801.47,526.78 1823.63,562.32 1845.8,600.8 C1863.3,631.18 1880.8,666.27 1898.3,699" fill="none" stroke="#960096" stroke-width="2.1" stroke-linejoin="round"/>
<polygon points="268.9,1120.4 276.69,1124.9 276.69,1133.9 268.9,1138.4 261.11,1133.9 261.11,1124.9" fill="#960096"/>
<polygon points="332.7,579.2 340.49,583.7 340.49,592.7 332.7,597.2 324.91,592.7 324.91,583.7" fill="#960096"/>
<polygon points="397.4,398.1 405.19,402.6 405.19,411.6 397.4,416.1 389.61,411.6 389.61,402.6" fill="#960096"/>
<polygon points="462.9,329 470.69,333.5 470.69,342.5 462.9,347 455.11,342.5 455.11,333.5" fill="#960096"/>
<polygon points="528,295.5 535.79,300 535.79,309 528,313.5 520.21,309 520.21,300" fill="#960096"/>
<polygon points="593.3,279 601.09,283.5 601.09,292.5 593.3,297 585.51,292.5 585.51,283.5" fill="#960096"/>
<polygon points="658.3,267.2 666.09,271.7 666.09,280.7 658.3,285.2 650.51,280.7 650.51,271.7" fill="#960096"/>
<polygon points="724,260.6 731.79,265.1 731.79,274.1 724,278.6 716.21,274.1 716.21,265.1" fill="#960096"/>
<polygon points="789.5,255.6 797.29,260.1 797.29,269.1 789.5,273.6 781.71,269.1 781.71,260.1" fill="#960096"/>
<polygon points="854.9,253.1 862.69,257.6 862.69,266.6 854.9,271.1 847.11,266.6 847.11,257.6" fill="#960096"/>
<polygon points="920.7,252.8 928.49,257.3 928.49,266.3 920.7,270.8 912.91,266.3 912.91,257.3" fill="#960096"/>
<polygon points="986.8,252.2 994.59,256.7 994.59,265.7 986.8,270.2 979.01,265.7 979.01,256.7" fill="#960096"/>
<polygon points="1052.6,251 1060.39,255.5 1060.39,264.5 1052.6,269 1044.81,264.5 1044.81,255.5" fill="#960096"/>
<polygon points="1118.2,253 1125.99,257.5 1125.99,266.5 1118.2,271 1110.41,266.5 1110.41,257.5" fill="#960096"/>
<polygon points="1184.2,255.6 1191.99,260.1 1191.99,269.1 1184.2,273.6 1176.41,269.1 1176.41,260.1" fill="#960096"/>
<polygon points="1250,259.7 1257.79,264.2 1257.79,273.2 1250,277.7 1242.21,273.2 1242.21,264.2" fill="#960096"/>
<polygon points="1316.2,266.3 1323.99,270.8 1323.99,279.8 1316.2,284.3 1308.41,279.8 1308.41,270.8" fill="#960096"/>
<polygon points="1382.4,271.3 1390.19,275.8 1390.19,284.8 1382.4,289.3 1374.61,284.8 1374.61,275.8" fill="#960096"/>
<polygon points="1448.2,277 1455.99,281.5 1455.99,290.5 1448.2,295 1440.41,290.5 1440.41,281.5" fill="#960096"/>
<polygon points="1514.2,292.2 1521.99,296.7 1521.99,305.7 1514.2,310.2 1506.41,305.7 1506.41,296.7" fill="#960096"/>
<polygon points="1580.4,307.5 1588.19,312 1588.19,321 1580.4,325.5 1572.61,321 1572.61,312" fill="#960096"/>
<polygon points="1646.6,331.6 1654.39,336.1 1654.39,345.1 1646.6,349.6 1638.81,345.1 1638.81,336.1" fill="#960096"/>
<polygon points="1713.3,386.3 1721.09,390.8 1721.09,399.8 1713.3,404.3 1705.51,399.8 1705.51,390.8" fill="#960096"/>
<polygon points="1779.3,483.4 1787.09,487.9 1787.09,496.9 1779.3,501.4 1771.51,496.9 1771.51,487.9" fill="#960096"/>
<polygon points="1845.8,591.8 1853.59,596.3 1853.59,605.3 1845.8,609.8 1838.01,605.3 1838.01,596.3" fill="#960096"/>
<path d="M268.9,477 L271.18,466.2 L273.46,455.99 L275.74,446.35 L278.01,437.25 L280.29,428.65 L282.57,420.52 L284.85,412.85 L287.13,405.6 L289.41,398.75 L291.69,392.28 L293.96,386.17 L296.24,380.4 L298.52,374.94 L300.8,369.79 L303.08,364.93 L305.36,360.33 L307.64,355.99 L309.91,351.89 L312.19,348.01 L314.47,344.35 L316.75,340.89 L319.03,337.63 L321.31,334.54 L323.59,331.63 L325.86,328.88 L328.14,326.28 L330.42,323.82 L332.7,321.5 C354.27,300.16 375.83,289.16 397.4,279.9 C419.23,270.53 441.07,269.04 462.9,265.6 C484.6,262.18 506.3,261.1 528,259.3 C549.77,257.5 571.53,255.7 593.3,254.8 C614.97,253.9 636.63,254.2 658.3,253.9 C680.2,253.6 702.1,253.42 724,253 C745.83,252.58 767.67,251.82 789.5,251.4 C811.3,250.98 833.1,250.67 854.9,250.5 C876.83,250.33 898.77,250.65 920.7,250.4 C942.73,250.15 964.77,249.53 986.8,249 C1008.73,248.47 1030.67,247.78 1052.6,247.2 C1074.47,246.62 1096.33,245.92 1118.2,245.5 C1140.2,245.08 1162.2,244.97 1184.2,244.7 C1206.13,244.43 1228.07,243.9 1250,243.9 C1272.07,243.9 1294.13,244.57 1316.2,244.7 C1338.27,244.83 1360.33,244.7 1382.4,244.7 C1404.33,244.7 1426.27,244.83 1448.2,244.7 C1470.2,244.57 1492.2,244.03 1514.2,243.9 C1536.27,243.77 1558.33,243.42 1580.4,243.9 C1602.47,244.38 1624.53,245.67 1646.6,246.8 C1668.83,247.94 1691.07,248.29 1713.3,250.7 C1735.3,253.09 1757.3,255.97 1779.3,261.2 C1801.47,266.47 1823.63,274.36 1845.8,282.2 C1863.3,288.39 1880.8,296.27 1898.3,303.3" fill="none" stroke="#800000" stroke-width="2.1" stroke-linejoin="round"/>
<polygon points="268.9,467 271.43,473.52 278.41,473.91 272.99,478.33 274.78,485.09 268.9,481.3 263.02,485.09 264.81,478.33 259.39,473.91 266.37,473.52" fill="#800000"/>
<polygon points="332.7,311.5 335.23,318.02 342.21,318.41 336.79,322.83 338.58,329.59 332.7,325.8 326.82,329.59 328.61,322.83 323.19,318.41 330.17,318.02" fill="#800000"/>
<polygon points="397.4,269.9 399.93,276.42 406.91,276.81 401.49,281.23 403.28,287.99 397.4,284.2 391.52,287.99 393.31,281.23 387.89,276.81 394.87,276.42" fill="#800000"/>
<polygon points="462.9,255.6 465.43,262.12 472.41,262.51 466.99,266.93 468.78,273.69 462.9,269.9 457.02,273.69 458.81,266.93 453.39,262.51 460.37,262.12" fill="#800000"/>
<polygon points="528,249.3 530.53,255.82 537.51,256.21 532.09,260.63 533.88,267.39 528,263.6 522.12,267.39 523.91,260.63 518.49,256.21 525.47,255.82" fill="#800000"/>
<polygon points="593.3,244.8 595.83,251.32 602.81,251.71 597.39,256.13 599.18,262.89 593.3,259.1 587.42,262.89 589.21,256.13 583.79,251.71 590.77,251.32" fill="#800000"/>
<polygon points="658.3,243.9 660.83,250.42 667.81,250.81 662.39,255.23 664.18,261.99 658.3,258.2 652.42,261.99 654.21,255.23 648.79,250.81 655.77,250.42" fill="#800000"/>
<polygon points="724,243 726.53,249.52 733.51,249.91 728.09,254.33 729.88,261.09 724,257.3 718.12,261.09 719.91,254.33 714.49,249.91 721.47,249.52" fill="#800000"/>
<polygon points="789.5,241.4 792.03,247.92 799.01,248.31 793.59,252.73 795.38,259.49 789.5,255.7 783.62,259.49 785.41,252.73 779.99,248.31 786.97,247.92" fill="#800000"/>
<polygon points="854.9,240.5 857.43,247.02 864.41,247.41 858.99,251.83 860.78,258.59 854.9,254.8 849.02,258.59 850.81,251.83 845.39,247.41 852.37,247.02" fill="#800000"/>
<polygon points="920.7,240.4 923.23,246.92 930.21,247.31 924.79,251.73 926.58,258.49 920.7,254.7 914.82,258.49 916.61,251.73 911.19,247.31 918.17,246.92" fill="#800000"/>
<polygon points="986.8,239 989.33,245.52 996.31,245.91 990.89,250.33 992.68,257.09 986.8,253.3 980.92,257.09 982.71,250.33 977.29,245.91 984.27,245.52" fill="#800000"/>
<polygon points="1052.6,237.2 1055.13,243.72 1062.11,244.11 1056.69,248.53 1058.48,255.29 1052.6,251.5 1046.72,255.29 1048.51,248.53 1043.09,244.11 1050.07,243.72" fill="#800000"/>
<polygon points="1118.2,235.5 1120.73,242.02 1127.71,242.41 1122.29,246.83 1124.08,253.59 1118.2,249.8 1112.32,253.59 1114.11,246.83 1108.69,242.41 1115.67,242.02" fill="#800000"/>
<polygon points="1184.2,234.7 1186.73,241.22 1193.71,241.61 1188.29,246.03 1190.08,252.79 1184.2,249 1178.32,252.79 1180.11,246.03 1174.69,241.61 1181.67,241.22" fill="#800000"/>
<polygon points="1250,233.9 1252.53,240.42 1259.51,240.81 1254.09,245.23 1255.88,251.99 1250,248.2 1244.12,251.99 1245.91,245.23 1240.49,240.81 1247.47,240.42" fill="#800000"/>
<polygon points="1316.2,234.7 1318.73,241.22 1325.71,241.61 1320.29,246.03 1322.08,252.79 1316.2,249 1310.32,252.79 1312.11,246.03 1306.69,241.61 1313.67,241.22" fill="#800000"/>
<polygon points="1382.4,234.7 1384.93,241.22 1391.91,241.61 1386.49,246.03 1388.28,252.79 1382.4,249 1376.52,252.79 1378.31,246.03 1372.89,241.61 1379.87,241.22" fill="#800000"/>
<polygon points="1448.2,234.7 1450.73,241.22 1457.71,241.61 1452.29,246.03 1454.08,252.79 1448.2,249 1442.32,252.79 1444.11,246.03 1438.69,241.61 1445.67,241.22" fill="#800000"/>
<polygon points="1514.2,233.9 1516.73,240.42 1523.71,240.81 1518.29,245.23 1520.08,251.99 1514.2,248.2 1508.32,251.99 1510.11,245.23 1504.69,240.81 1511.67,240.42" fill="#800000"/>
<polygon points="1580.4,233.9 1582.93,240.42 1589.91,240.81 1584.49,245.23 1586.28,251.99 1580.4,248.2 1574.52,251.99 1576.31,245.23 1570.89,240.81 1577.87,240.42" fill="#800000"/>
<polygon points="1646.6,236.8 1649.13,243.32 1656.11,243.71 1650.69,248.13 1652.48,254.89 1646.6,251.1 1640.72,254.89 1642.51,248.13 1637.09,243.71 1644.07,243.32" fill="#800000"/>
<polygon points="1713.3,240.7 1715.83,247.22 1722.81,247.61 1717.39,252.03 1719.18,258.79 1713.3,255 1707.42,258.79 1709.21,252.03 1703.79,247.61 1710.77,247.22" fill="#800000"/>
<polygon points="1779.3,251.2 1781.83,257.72 1788.81,258.11 1783.39,262.53 1785.18,269.29 1779.3,265.5 1773.42,269.29 1775.21,262.53 1769.79,258.11 1776.77,257.72" fill="#800000"/>
<polygon points="1845.8,272.2 1848.33,278.72 1855.31,279.11 1849.89,283.53 1851.68,290.29 1845.8,286.5 1839.92,290.29 1841.71,283.53 1836.29,279.11 1843.27,278.72" fill="#800000"/>
</g>
<line x1="1329" y1="784.7" x2="1419" y2="784.7" stroke="#000000" stroke-width="2"/>
<rect x="1366.3" y="777.5" width="14.4" height="14.4" fill="#000000"/>
<line x1="1329" y1="841.25" x2="1419" y2="841.25" stroke="#FF0000" stroke-width="2"/>
<circle cx="1373.5" cy="841.25" r="8" fill="#FF0000"/>
<line x1="1329" y1="897.8" x2="1419" y2="897.8" stroke="#0000FF" stroke-width="2"/>
<polygon points="1373.5,887.6 1382.5,904.6 1364.5,904.6" fill="#0000FF"/>
<line x1="1329" y1="954.35" x2="1419" y2="954.35" stroke="#FF00FF" stroke-width="2"/>
<polygon points="1373.5,964.55 1382.5,947.55 1364.5,947.55" fill="#FF00FF"/>
<line x1="1329" y1="1010.9" x2="1419" y2="1010.9" stroke="#008000" stroke-width="2"/>
<polygon points="1373.5,1001.9 1382.5,1010.9 1373.5,1019.9 1364.5,1010.9" fill="#008000"/>
<line x1="1329" y1="1067.45" x2="1419" y2="1067.45" stroke="#000080" stroke-width="2"/>
<polygon points="1363.3,1067.45 1380.3,1058.45 1380.3,1076.45" fill="#000080"/>
<line x1="1329" y1="1124" x2="1419" y2="1124" stroke="#8000FF" stroke-width="2"/>
<polygon points="1383.7,1124 1366.7,1115 1366.7,1133" fill="#8000FF"/>
<line x1="1329" y1="1180.55" x2="1419" y2="1180.55" stroke="#960096" stroke-width="2"/>
<polygon points="1373.5,1171.55 1381.29,1176.05 1381.29,1185.05 1373.5,1189.55 1365.71,1185.05 1365.71,1176.05" fill="#960096"/>
<line x1="1329" y1="1237.1" x2="1419" y2="1237.1" stroke="#800000" stroke-width="2"/>
<polygon points="1373.5,1227.1 1376.03,1233.62 1383.01,1234.01 1377.59,1238.43 1379.38,1245.19 1373.5,1241.4 1367.62,1245.19 1369.41,1238.43 1363.99,1234.01 1370.97,1233.62" fill="#800000"/>
<line x1="191.5" y1="1771.74" x2="1872.1" y2="1771.74" stroke="#B4B4B4" stroke-width="3"/>
<line x1="191.5" y1="1933.19" x2="1872.1" y2="1933.19" stroke="#B4B4B4" stroke-width="3"/>
<line x1="191.5" y1="2094.63" x2="1872.1" y2="2094.63" stroke="#B4B4B4" stroke-width="3"/>
<line x1="191.5" y1="2256.07" x2="1872.1" y2="2256.07" stroke="#B4B4B4" stroke-width="3"/>
<line x1="191.5" y1="2417.51" x2="1872.1" y2="2417.51" stroke="#B4B4B4" stroke-width="3"/>
<line x1="191.5" y1="2578.96" x2="1872.1" y2="2578.96" stroke="#B4B4B4" stroke-width="3"/>
<line x1="191.5" y1="1610.3" x2="208.3" y2="1610.3" stroke="#B4B4B4" stroke-width="3"/>
<line x1="191.5" y1="2740.4" x2="208.3" y2="2740.4" stroke="#B4B4B4" stroke-width="3"/>
<rect x="263.95" y="1906.4" width="73.4" height="834" fill="#2680C2"/>
<rect x="448.65" y="2415.2" width="73.4" height="325.2" fill="#2680C2"/>
<rect x="633.35" y="1936.2" width="73.4" height="804.2" fill="#2680C2"/>
<rect x="818.05" y="1789.9" width="73.4" height="950.5" fill="#2680C2"/>
<rect x="1002.75" y="1785.6" width="73.4" height="954.8" fill="#2680C2"/>
<rect x="1187.45" y="1945.4" width="73.4" height="795" fill="#2680C2"/>
<rect x="1372.15" y="2019.4" width="73.4" height="721" fill="#2680C2"/>
<rect x="1556.85" y="1967.7" width="73.4" height="772.7" fill="#2680C2"/>
<rect x="1741.55" y="2290.7" width="73.4" height="449.7" fill="#2680C2"/>
<line x1="208.3" y1="2740.4" x2="208.3" y2="2756" stroke="#A6A6A6" stroke-width="2.6"/>
<line x1="393" y1="2740.4" x2="393" y2="2756" stroke="#A6A6A6" stroke-width="2.6"/>
<line x1="577.7" y1="2740.4" x2="577.7" y2="2756" stroke="#A6A6A6" stroke-width="2.6"/>
<line x1="762.4" y1="2740.4" x2="762.4" y2="2756" stroke="#A6A6A6" stroke-width="2.6"/>
<line x1="947.1" y1="2740.4" x2="947.1" y2="2756" stroke="#A6A6A6" stroke-width="2.6"/>
<line x1="1131.8" y1="2740.4" x2="1131.8" y2="2756" stroke="#A6A6A6" stroke-width="2.6"/>
<line x1="1316.5" y1="2740.4" x2="1316.5" y2="2756" stroke="#A6A6A6" stroke-width="2.6"/>
<line x1="1501.2" y1="2740.4" x2="1501.2" y2="2756" stroke="#A6A6A6" stroke-width="2.6"/>
<line x1="1685.9" y1="2740.4" x2="1685.9" y2="2756" stroke="#A6A6A6" stroke-width="2.6"/>
<line x1="1870.6" y1="2740.4" x2="1870.6" y2="2756" stroke="#A6A6A6" stroke-width="2.6"/>
<path d="M208.3,1610.3 L1872.1,1610.3 L1872.1,2740.4" fill="none" stroke="#000" stroke-width="5.7" stroke-linejoin="round"/>
<path d="M208.3,1607.5 L208.3,2740.4 L1875,2740.4" fill="none" stroke="#404040" stroke-width="6.6"/>
<text transform="translate(1429.86,798.3) scale(0.9700,1)" style="font-family:'Liberation Sans',Arial,Helvetica,sans-serif;font-weight:700;font-size:44.97px">T=100 nm ICP-0 min</text>
<text transform="translate(1429.86,854.85) scale(0.9700,1)" style="font-family:'Liberation Sans',Arial,Helvetica,sans-serif;font-weight:700;font-size:44.97px">T=100 nm ICP-10 min</text>
<text transform="translate(1429.86,911.4) scale(0.9700,1)" style="font-family:'Liberation Sans',Arial,Helvetica,sans-serif;font-weight:700;font-size:44.97px">T=100 nm ICP-20 min</text>
<text transform="translate(1429.86,967.95) scale(0.9700,1)" style="font-family:'Liberation Sans',Arial,Helvetica,sans-serif;font-weight:700;font-size:44.97px">T=100 nm ICP-30 min</text>
<text transform="translate(1429.86,1024.5) scale(0.9700,1)" style="font-family:'Liberation Sans',Arial,Helvetica,sans-serif;font-weight:700;font-size:44.97px">T=100 nm ICP-40 min</text>
<text transform="translate(1429.86,1081.05) scale(0.9700,1)" style="font-family:'Liberation Sans',Arial,Helvetica,sans-serif;font-weight:700;font-size:44.97px">T=100 nm ICP-50 min</text>
<text transform="translate(1429.86,1137.6) scale(0.9700,1)" style="font-family:'Liberation Sans',Arial,Helvetica,sans-serif;font-weight:700;font-size:44.97px">T=100 nm ICP-60 min</text>
<text transform="translate(1429.86,1194.15) scale(0.9700,1)" style="font-family:'Liberation Sans',Arial,Helvetica,sans-serif;font-weight:700;font-size:44.97px">T=100 nm ICP-70 min</text>
<text transform="translate(1429.86,1250.7) scale(0.9700,1)" style="font-family:'Liberation Sans',Arial,Helvetica,sans-serif;font-weight:700;font-size:44.97px">Null</text>
<text transform="translate(148.49,71.52) scale(0.9465,1)" style="font-family:'Liberation Sans',Arial,Helvetica,sans-serif;font-weight:400;font-size:50.5px">100</text>
<text transform="translate(175.25,244.04) scale(0.9465,1)" style="font-family:'Liberation Sans',Arial,Helvetica,sans-serif;font-weight:400;font-size:50.5px">95</text>
<text transform="translate(175.02,416.55) scale(0.9465,1)" style="font-family:'Liberation Sans',Arial,Helvetica,sans-serif;font-weight:400;font-size:50.5px">90</text>
<text transform="translate(175.25,589.07) scale(0.9465,1)" style="font-family:'Liberation Sans',Arial,Helvetica,sans-serif;font-weight:400;font-size:50.5px">85</text>
<text transform="translate(175.02,761.58) scale(0.9465,1)" style="font-family:'Liberation Sans',Arial,Helvetica,sans-serif;font-weight:400;font-size:50.5px">80</text>
<text transform="translate(175.25,933.84) scale(0.9465,1)" style="font-family:'Liberation Sans',Arial,Helvetica,sans-serif;font-weight:400;font-size:50.5px">75</text>
<text transform="translate(175.02,1106.61) scale(0.9465,1)" style="font-family:'Liberation Sans',Arial,Helvetica,sans-serif;font-weight:400;font-size:50.5px">70</text>
<text transform="translate(175.25,1279.12) scale(0.9465,1)" style="font-family:'Liberation Sans',Arial,Helvetica,sans-serif;font-weight:400;font-size:50.5px">65</text>
<text transform="translate(228.52,1343.86) scale(0.9449,1)" style="font-family:'Liberation Sans',Arial,Helvetica,sans-serif;font-weight:400;font-size:50.8px">350</text>
<text transform="translate(337.51,1343.86) scale(0.9449,1)" style="font-family:'Liberation Sans',Arial,Helvetica,sans-serif;font-weight:400;font-size:50.8px">400</text>
<text transform="translate(446.13,1343.86) scale(0.9449,1)" style="font-family:'Liberation Sans',Arial,Helvetica,sans-serif;font-weight:400;font-size:50.8px">450</text>
<text transform="translate(554.4,1343.86) scale(0.9449,1)" style="font-family:'Liberation Sans',Arial,Helvetica,sans-serif;font-weight:400;font-size:50.8px">500</text>
<text transform="translate(663.03,1343.86) scale(0.9449,1)" style="font-family:'Liberation Sans',Arial,Helvetica,sans-serif;font-weight:400;font-size:50.8px">550</text>
<text transform="translate(771.41,1343.86) scale(0.9449,1)" style="font-family:'Liberation Sans',Arial,Helvetica,sans-serif;font-weight:400;font-size:50.8px">600</text>
<text transform="translate(880.04,1343.86) scale(0.9449,1)" style="font-family:'Liberation Sans',Arial,Helvetica,sans-serif;font-weight:400;font-size:50.8px">650</text>
<text transform="translate(988.67,1343.86) scale(0.9449,1)" style="font-family:'Liberation Sans',Arial,Helvetica,sans-serif;font-weight:400;font-size:50.8px">700</text>
<text transform="translate(1097.29,1343.86) scale(0.9449,1)" style="font-family:'Liberation Sans',Arial,Helvetica,sans-serif;font-weight:400;font-size:50.8px">750</text>
<text transform="translate(1206.04,1343.86) scale(0.9449,1)" style="font-family:'Liberation Sans',Arial,Helvetica,sans-serif;font-weight:400;font-size:50.8px">800</text>
<text transform="translate(1314.67,1343.86) scale(0.9449,1)" style="font-family:'Liberation Sans',Arial,Helvetica,sans-serif;font-weight:400;font-size:50.8px">850</text>
<text transform="translate(1423.29,1343.86) scale(0.9449,1)" style="font-family:'Liberation Sans',Arial,Helvetica,sans-serif;font-weight:400;font-size:50.8px">900</text>
<text transform="translate(1531.92,1343.86) scale(0.9449,1)" style="font-family:'Liberation Sans',Arial,Helvetica,sans-serif;font-weight:400;font-size:50.8px">950</text>
<text transform="translate(1626.51,1343.86) scale(0.9449,1)" style="font-family:'Liberation Sans',Arial,Helvetica,sans-serif;font-weight:400;font-size:50.8px">1000</text>
<text transform="translate(1735.13,1343.86) scale(0.9449,1)" style="font-family:'Liberation Sans',Arial,Helvetica,sans-serif;font-weight:400;font-size:50.8px">1050</text>
<text transform="translate(1845.56,1343.86) scale(0.9449,1)" style="font-family:'Liberation Sans',Arial,Helvetica,sans-serif;font-weight:400;font-size:50.8px">1100</text>
<text transform="translate(857.2,1437.7) scale(0.9563,1)" style="font-family:'Liberation Sans',Arial,Helvetica,sans-serif;font-weight:700;font-size:59.04px">Wavelength (nm)</text>
<text transform="translate(107.74,956.8) rotate(-90) scale(1.0039,1)" style="font-family:'Liberation Sans',Arial,Helvetica,sans-serif;font-weight:700;font-size:59.5px">Transmittance (%)</text>
<text transform="translate(380.29,190.34) scale(1.0668,1)" style="font-family:'Liberation Serif','Times New Roman',serif;font-weight:700;font-size:68.9px">(a)</text>
<text transform="translate(112.64,2754.01) scale(1.0714,1)" style="font-family:'Noto Sans CJK SC','Liberation Sans',sans-serif;font-weight:400;font-size:43.4px">89</text>
<text transform="translate(112.41,2592.56) scale(1.0714,1)" style="font-family:'Noto Sans CJK SC','Liberation Sans',sans-serif;font-weight:400;font-size:43.4px">90</text>
<text transform="translate(113.11,2431.12) scale(1.0714,1)" style="font-family:'Noto Sans CJK SC','Liberation Sans',sans-serif;font-weight:400;font-size:43.4px">91</text>
<text transform="translate(112.41,2269.68) scale(1.0714,1)" style="font-family:'Noto Sans CJK SC','Liberation Sans',sans-serif;font-weight:400;font-size:43.4px">92</text>
<text transform="translate(112.64,2108.24) scale(1.0714,1)" style="font-family:'Noto Sans CJK SC','Liberation Sans',sans-serif;font-weight:400;font-size:43.4px">93</text>
<text transform="translate(111.48,1946.79) scale(1.0714,1)" style="font-family:'Noto Sans CJK SC','Liberation Sans',sans-serif;font-weight:400;font-size:43.4px">94</text>
<text transform="translate(112.64,1785.35) scale(1.0714,1)" style="font-family:'Noto Sans CJK SC','Liberation Sans',sans-serif;font-weight:400;font-size:43.4px">95</text>
<text transform="translate(112.18,1623.91) scale(1.0714,1)" style="font-family:'Noto Sans CJK SC','Liberation Sans',sans-serif;font-weight:400;font-size:43.4px">96</text>
<text transform="translate(260.02,2817.65) scale(1.0024,1)" style="font-family:'Noto Sans CJK SC','Liberation Sans',sans-serif;font-weight:400;font-size:41.7px">Null</text>
<text transform="translate(472.65,2817.95) scale(1.0714,1)" style="font-family:'Noto Sans CJK SC','Liberation Sans',sans-serif;font-weight:400;font-size:43.4px">0</text>
<text transform="translate(643.51,2817.95) scale(1.0714,1)" style="font-family:'Noto Sans CJK SC','Liberation Sans',sans-serif;font-weight:400;font-size:43.4px">10</text>
<text transform="translate(829.38,2817.95) scale(1.0714,1)" style="font-family:'Noto Sans CJK SC','Liberation Sans',sans-serif;font-weight:400;font-size:43.4px">20</text>
<text transform="translate(1014.31,2817.95) scale(1.0714,1)" style="font-family:'Noto Sans CJK SC','Liberation Sans',sans-serif;font-weight:400;font-size:43.4px">30</text>
<text transform="translate(1199.24,2817.95) scale(1.0714,1)" style="font-family:'Noto Sans CJK SC','Liberation Sans',sans-serif;font-weight:400;font-size:43.4px">40</text>
<text transform="translate(1383.71,2817.95) scale(1.0714,1)" style="font-family:'Noto Sans CJK SC','Liberation Sans',sans-serif;font-weight:400;font-size:43.4px">50</text>
<text transform="translate(1567.83,2817.95) scale(1.0714,1)" style="font-family:'Noto Sans CJK SC','Liberation Sans',sans-serif;font-weight:400;font-size:43.4px">60</text>
<text transform="translate(1752.64,2817.95) scale(1.0714,1)" style="font-family:'Noto Sans CJK SC','Liberation Sans',sans-serif;font-weight:400;font-size:43.4px">70</text>
<text transform="translate(672.54,2906.8) scale(1.0015,1)" style="font-family:'Noto Sans CJK SC','Liberation Sans',sans-serif;font-weight:700;font-size:55px">Etching time (min)</text>
<text transform="translate(83.5,2533.12) rotate(-90) scale(0.9875,1)" style="font-family:'Noto Sans CJK SC','Liberation Sans',sans-serif;font-weight:700;font-size:56px">Average transmittance (%)</text>
<text transform="translate(335.72,1748.94) scale(1.1234,1)" style="font-family:'Liberation Serif','Times New Roman',serif;font-weight:700;font-size:68.9px">(b)</text>
</svg>
</body></html>
